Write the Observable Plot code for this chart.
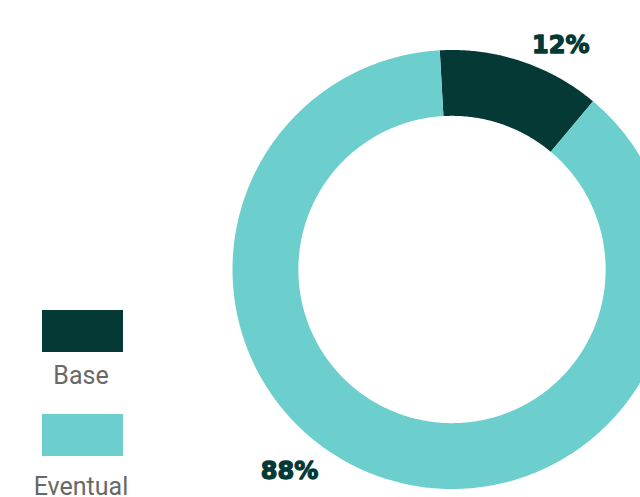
<!DOCTYPE html>
<html>
<head>
<meta charset="utf-8">
<script src="https://cdn.jsdelivr.net/npm/d3@7"></script>
<script src="https://cdn.jsdelivr.net/npm/@observablehq/plot@0.6"></script>
<style>
  html, body { margin: 0; padding: 0; background: #fff; overflow: hidden; }
  #wrap { position: relative; width: 640px; height: 497px; overflow: hidden; }
  #wrap svg { position: absolute; left: 0; top: 0; }
  .sw { position: absolute; left: 42px; width: 81px; height: 42px; }
  .lbl { position: absolute; left: 0; width: 162px; text-align: center;
         font-family: Roboto, sans-serif; font-weight: 400; font-size: 25px;
         line-height: 25px; color: #686868; }
</style>
</head>
<body>
<div id="wrap"></div>
<script>
const categories = ["Base", "Eventual"];
const shares = [12, 88];
const labels = ["12%", "88%"];
const colors = ["#053936", "#6dcfcd"];

const rotation = -3.2 * Math.PI / 180; // start angle of first slice
const innerRatio = 0.7;

const pie = d3.pie().sort(null).value(d => d.share).startAngle(rotation).endAngle(rotation + 2 * Math.PI);
const slices = pie(categories.map((c, i) => ({category: c, share: shares[i], label: labels[i]})));

// ring geometry for each slice (outer arc paired with inner arc)
const ring = [];
for (const s of slices) {
  const n = Math.max(2, Math.ceil((s.endAngle - s.startAngle) / (Math.PI / 360)));
  for (let k = 0; k <= n; k++) {
    const a = s.startAngle + (s.endAngle - s.startAngle) * k / n;
    ring.push({
      category: s.data.category,
      x1: Math.sin(a), y1: Math.cos(a),
      x2: innerRatio * Math.sin(a), y2: innerRatio * Math.cos(a)
    });
  }
}

// label placement (fraction into each slice, radius outside ring)
const labelPos = [0.67, 0.565];
const labelR = [1.135, 1.18];
const labelData = slices.map((s, i) => {
  const a = s.startAngle + (s.endAngle - s.startAngle) * labelPos[i];
  return {label: s.data.label, x: labelR[i] * Math.sin(a), y: labelR[i] * Math.cos(a)};
});

const cx = 452, cy = 269.5, R = 219.5;
const chart = Plot.plot({
  width: 640,
  height: 497,
  margin: 0,
  x: {domain: [-1, 1], range: [cx - R, cx + R], axis: null},
  y: {domain: [1, -1], range: [cy - R, cy + R], axis: null},
  color: {domain: categories, range: colors},
  marks: [
    Plot.area(ring, {x1: "x1", y1: "y1", x2: "x2", y2: "y2", z: "category", fill: "category", clip: true}),
    Plot.text(labelData, {x: "x", y: "y", text: "label", fill: colors[0],
      stroke: colors[0], strokeWidth: 1.3,
      fontSize: 24, fontWeight: "bold", fontFamily: "DejaVu Sans", textAnchor: "middle"})
  ]
});

const wrap = document.getElementById("wrap");
wrap.appendChild(chart);

const tops = [310, 414];
const textTops = [363, 474];
categories.forEach((c, i) => {
  const sw = document.createElement("div");
  sw.className = "sw";
  sw.style.top = tops[i] + "px";
  sw.style.background = colors[i];
  wrap.appendChild(sw);
  const t = document.createElement("div");
  t.className = "lbl";
  t.style.top = textTops[i] + "px";
  t.textContent = c;
  wrap.appendChild(t);
});
</script>
</body>
</html>
